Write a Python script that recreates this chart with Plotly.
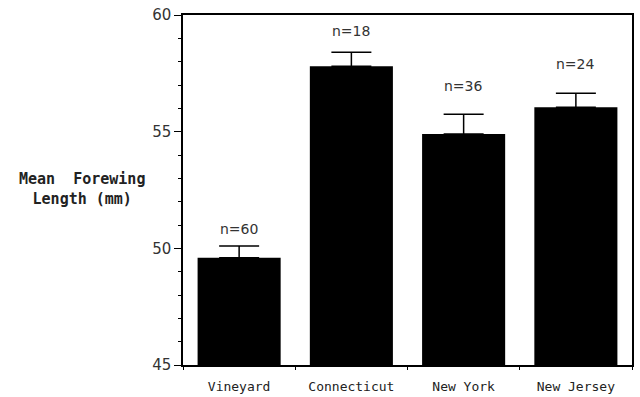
import plotly.graph_objects as go

categories = ["Vineyard", "Connecticut", "New York", "New Jersey"]
mean_length = [49.6, 57.8, 54.9, 56.05]
std_error = [0.5, 0.6, 0.85, 0.6]
n_labels = ["n=60", "n=18", "n=36", "n=24"]
n_label_y = [50.83, 59.3, 56.95, 57.9]
y_ticks = [45, 50, 55, 60]

fig = go.Figure()
fig.add_trace(go.Bar(
    x=categories, y=mean_length, base=0,
    marker=dict(color="black", line=dict(width=0)),
    width=0.74,
    error_y=dict(type="data", array=std_error, arrayminus=[0]*len(std_error),
                 symmetric=False, color="black", thickness=1.5, width=20),
))

for c, t, yy in zip(categories, n_labels, n_label_y):
    fig.add_annotation(x=c, y=yy, text=t, showarrow=False,
                       font=dict(family="DejaVu Sans", size=14, color="#333"),
                       xanchor="center", yanchor="middle")

fig.add_annotation(xref="paper", yref="paper", x=-0.225, y=0.503,
                   text="<b>Mean  Forewing</b><br><b>Length (mm)</b>",
                   showarrow=False, align="center", xanchor="center", yanchor="middle",
                   font=dict(family="DejaVu Sans Mono", size=15, color="#222"))

fig.update_layout(
    width=640, height=397,
    margin=dict(l=183, r=8, t=15, b=32, autoexpand=False),
    paper_bgcolor="white", plot_bgcolor="white",
    showlegend=False, bargap=0.26,
    xaxis=dict(showline=True, linecolor="black", linewidth=1.5, mirror=True,
               ticks="outside", ticklen=3, tickcolor="black", tickson="boundaries",
               ticklabelstandoff=9, automargin=False,
               tickfont=dict(family="DejaVu Sans Mono", size=13, color="#222"),
               showgrid=False, zeroline=False),
    yaxis=dict(range=[45, 60], showline=True, linecolor="black", linewidth=1.5, mirror=True,
               tickvals=y_ticks, ticks="outside", ticklen=7, tickcolor="black",
               automargin=False,
               tickfont=dict(family="DejaVu Sans", size=15, color="#333"),
               minor=dict(dtick=1, ticks="outside", ticklen=3, tickcolor="black"),
               showgrid=False, zeroline=False),
)

fig.write_html("out.html", config={"displayModeBar": False},
               post_script="document.body.style.margin='0';")
